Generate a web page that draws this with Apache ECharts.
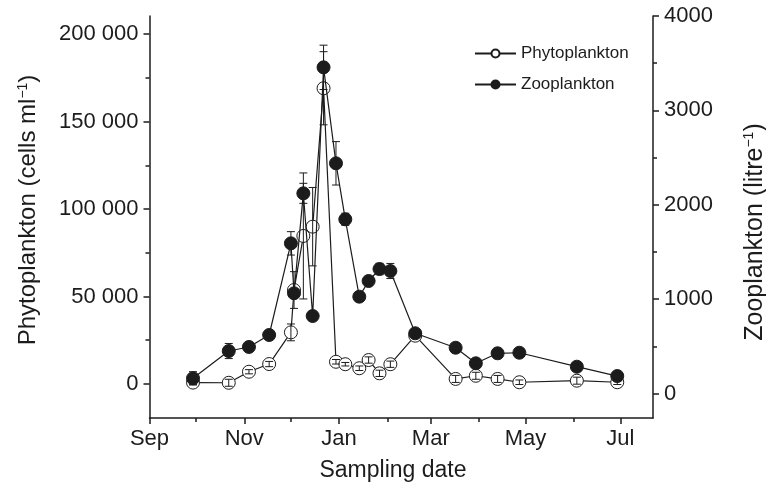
<!DOCTYPE html>
<html>
<head>
<meta charset="utf-8">
<script src="https://cdn.jsdelivr.net/npm/echarts@6/dist/echarts.min.js"></script>
<style>
  html, body { margin: 0; padding: 0; background: #fff; }
  #chart { width: 766px; height: 491px; }
</style>
</head>
<body>
<div id="chart"></div>
<script>
// Sampling dates over one season (Sep to Jul)
const sampleDates = [
  '2006-09-29', '2006-10-22', '2006-11-04', '2006-11-17', '2006-12-01', '2006-12-03',
  '2006-12-09', '2006-12-15', '2006-12-22', '2006-12-30', '2007-01-05', '2007-01-14',
  '2007-01-20', '2007-01-27', '2007-02-03', '2007-02-19', '2007-03-17', '2007-03-30',
  '2007-04-13', '2007-04-27', '2007-06-03', '2007-06-29'
];

// Phytoplankton density (cells per ml) and its error
const phytoplankton = [
  800, 700, 7000, 11400, 29500, 53700,
  84600, 89900, 169000, 12700, 11300, 9000,
  13700, 6100, 11300, 27600, 2900, 4700,
  2900, 1000, 1900, 1000
];
const phytoplanktonErr = [
  1200, 2000, 1200, 1500, 4800, 10500,
  36000, 22400, 20900, 1300, 1000, 1300,
  1800, 1800, 1800, 1300, 2000, 2000,
  2000, 1300, 2000, 1300
];

// Zooplankton density (individuals per litre) and its error
const zooplankton = [
  161, 450, 493, 620, 1591, 1062,
  2121, 821, 3456, 2439, 1846, 1026,
  1192, 1319, 1298, 638, 485, 320,
  426, 432, 284, 185
];
const zooplanktonErr = [
  70, 80, 30, 30, 124, 40,
  106, 30, 235, 230, 64, 30,
  30, 60, 80, 30, 30, 30,
  30, 30, 30, 30
];

// Axis ticks
const monthNames = ['Jan', 'Feb', 'Mar', 'Apr', 'May', 'Jun', 'Jul', 'Aug', 'Sep', 'Oct', 'Nov', 'Dec'];
const monthTicks = ['2006-09-01', '2006-11-01', '2007-01-01', '2007-03-01', '2007-05-01', '2007-07-01'];
const monthMinorTicks = ['2006-10-01', '2006-12-01', '2007-02-01', '2007-04-01', '2007-06-01'];
const phytoTicks = [0, 50000, 100000, 150000, 200000];
const phytoMinorTicks = [25000, 75000, 125000, 175000];
const zooTicks = [0, 1000, 2000, 3000, 4000];
const zooMinorTicks = [500, 1500, 2500, 3500];

const ink = '#1c1c1c';
const fontFamily = '"Liberation Sans", Arial, Helvetica, sans-serif';

// dates become UTC millisecond values on a linear axis
const xMin = Date.parse('2006-09-01');
const xMax = Date.parse('2007-07-22');
const toTs = arr => arr.map(d => Date.parse(d));
const tsDates = toTs(sampleDates);

const axisLineStyle = { color: ink, width: 1.5 };

function spaced(v) {
  return String(v).replace(/\B(?=(\d{3})+(?!\d))/g, ' ');
}

function errorBars(values, errors, yAxisIndex) {
  return {
    type: 'custom',
    xAxisIndex: 0,
    yAxisIndex: yAxisIndex,
    z: 4,
    silent: true,
    data: tsDates.map((t, i) => [t, values[i] - errors[i], values[i] + errors[i]]),
    encode: { x: 0, y: [1, 2] },
    renderItem: function (params, api) {
      const x = api.value(0);
      const lo = api.coord([x, api.value(1)]);
      const hi = api.coord([x, api.value(2)]);
      const hw = 4;
      const st = { stroke: ink, lineWidth: 1 };
      return {
        type: 'group',
        children: [
          { type: 'line', shape: { x1: lo[0], y1: lo[1], x2: hi[0], y2: hi[1] }, style: st },
          { type: 'line', shape: { x1: lo[0] - hw, y1: lo[1], x2: lo[0] + hw, y2: lo[1] }, style: st },
          { type: 'line', shape: { x1: hi[0] - hw, y1: hi[1], x2: hi[0] + hw, y2: hi[1] }, style: st }
        ]
      };
    }
  };
}

const chart = echarts.init(document.getElementById('chart'), null, { renderer: 'canvas' });

const tickFont = { fontSize: 22, color: ink, fontFamily: fontFamily };
const titleSup = { fontSize: 14, verticalAlign: 'top', fontFamily: fontFamily, fill: ink };

chart.setOption({
  backgroundColor: '#ffffff',
  animation: false,
  textStyle: { fontFamily: fontFamily, color: ink },
  grid: { left: 149.5, right: 113, top: 16, bottom: 73, containLabel: false },
  legend: {
    orient: 'vertical',
    left: 469,
    top: 40,
    itemWidth: 41,
    itemHeight: 10,
    itemGap: 14,
    textStyle: { fontSize: 17, color: ink, fontFamily: fontFamily },
    data: ['Phytoplankton', 'Zooplankton']
  },
  xAxis: [
    {
      type: 'value',
      min: xMin,
      max: xMax,
      position: 'bottom',
      axisLine: { onZero: false, lineStyle: axisLineStyle },
      axisTick: { show: true, inside: false, length: 6, lineStyle: axisLineStyle, customValues: toTs(monthTicks) },
      axisLabel: Object.assign({
        customValues: toTs(monthTicks),
        margin: 10,
        formatter: v => monthNames[new Date(v).getUTCMonth()]
      }, tickFont),
      splitLine: { show: false }
    },
    {
      type: 'value',
      min: xMin,
      max: xMax,
      position: 'bottom',
      axisLine: { show: false, onZero: false },
      axisTick: { show: true, length: 4, lineStyle: axisLineStyle, customValues: toTs(monthMinorTicks) },
      axisLabel: { show: false },
      splitLine: { show: false }
    }
  ],
  yAxis: [
    {
      type: 'value',
      position: 'left',
      min: -19429,
      max: 210286,
      axisLine: { show: true, onZero: false, lineStyle: axisLineStyle },
      axisTick: { show: true, length: 6, lineStyle: axisLineStyle, customValues: phytoTicks },
      axisLabel: Object.assign({
        customValues: phytoTicks,
        margin: 11,
        formatter: v => spaced(v)
      }, tickFont),
      splitLine: { show: false }
    },
    {
      type: 'value',
      position: 'right',
      min: -259.6,
      max: 4000,
      axisLine: { show: true, onZero: false, lineStyle: axisLineStyle },
      axisTick: { show: true, length: 6, lineStyle: axisLineStyle, customValues: zooTicks },
      axisLabel: Object.assign({
        customValues: zooTicks,
        margin: 11,
        formatter: v => String(v)
      }, tickFont),
      splitLine: { show: false }
    },
    {
      type: 'value',
      position: 'left',
      min: -19429,
      max: 210286,
      axisLine: { show: false, onZero: false },
      axisTick: { show: true, length: 4, lineStyle: axisLineStyle, customValues: phytoMinorTicks },
      axisLabel: { show: false },
      splitLine: { show: false }
    },
    {
      type: 'value',
      position: 'right',
      min: -259.6,
      max: 4000,
      axisLine: { show: false, onZero: false },
      axisTick: { show: true, length: 4, lineStyle: axisLineStyle, customValues: zooMinorTicks },
      axisLabel: { show: false },
      splitLine: { show: false }
    }
  ],
  graphic: [
    {
      type: 'text',
      x: 28, y: 210,
      rotation: Math.PI / 2,
      style: {
        text: 'Phytoplankton (cells ml{sup|−1})',
        align: 'center',
        verticalAlign: 'middle',
        fontSize: 24,
        fontFamily: fontFamily,
        fill: ink,
        rich: { sup: titleSup }
      }
    },
    {
      type: 'text',
      x: 755, y: 232,
      rotation: Math.PI / 2,
      style: {
        text: 'Zooplankton (litre{sup|−1})',
        align: 'center',
        verticalAlign: 'middle',
        fontSize: 25,
        fontFamily: fontFamily,
        fill: ink,
        rich: { sup: titleSup }
      }
    },
    {
      type: 'text',
      x: 393, y: 471,
      style: {
        text: 'Sampling date',
        align: 'center',
        verticalAlign: 'middle',
        fontSize: 23,
        fontFamily: fontFamily,
        fill: ink
      }
    }
  ],
  series: [
    {
      name: 'Phytoplankton',
      type: 'line',
      xAxisIndex: 0,
      yAxisIndex: 0,
      z: 2,
      data: tsDates.map((t, i) => [t, phytoplankton[i]]),
      symbol: 'circle',
      symbolSize: 13,
      showAllSymbol: true,
      lineStyle: { color: ink, width: 1.2 },
      itemStyle: { color: '#ffffff', borderColor: ink, borderWidth: 1 }
    },
    {
      name: 'Zooplankton',
      type: 'line',
      xAxisIndex: 0,
      yAxisIndex: 1,
      z: 3,
      data: tsDates.map((t, i) => [t, zooplankton[i]]),
      symbol: 'circle',
      symbolSize: 13,
      showAllSymbol: true,
      lineStyle: { color: ink, width: 1.2 },
      itemStyle: { color: ink, borderColor: ink, borderWidth: 1 }
    },
    errorBars(phytoplankton, phytoplanktonErr, 0),
    errorBars(zooplankton, zooplanktonErr, 1)
  ]
});
</script>
</body>
</html>
